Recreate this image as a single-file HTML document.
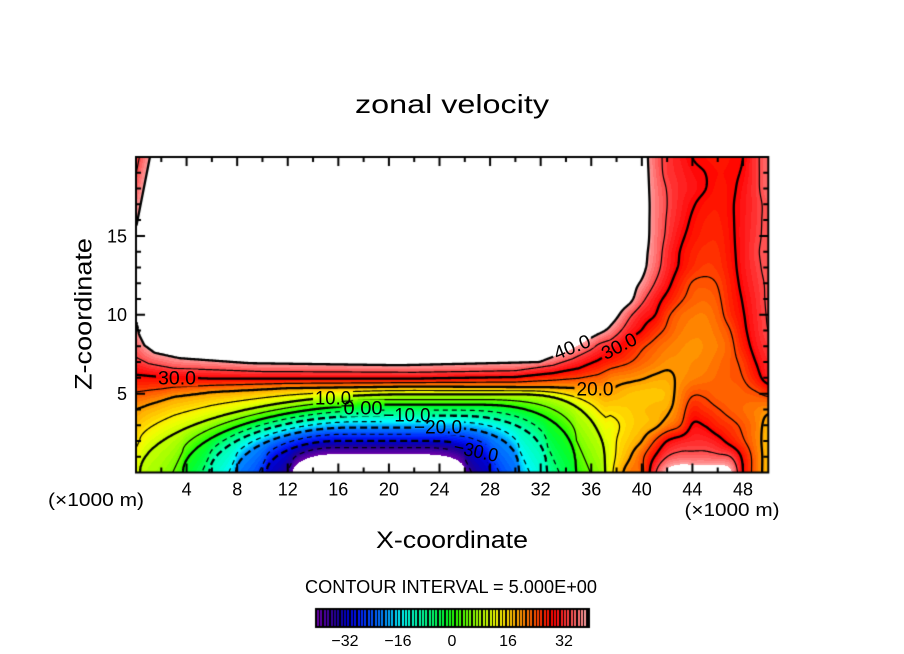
<!DOCTYPE html>
<html><head><meta charset="utf-8">
<style>
html,body{margin:0;padding:0;background:#fff;}
#wrap{position:relative;width:904px;height:654px;overflow:hidden;background:#fff;}
canvas{position:absolute;left:0;top:0;}
svg{position:absolute;left:0;top:0;}
text{font-family:"Liberation Sans",sans-serif;fill:#000;}
</style></head><body>
<div id="wrap">
<canvas id="c" width="904" height="654"></canvas>
<svg width="904" height="654" viewBox="0 0 904 654">
<text x="452" y="113" font-size="26" text-anchor="middle" textLength="194" lengthAdjust="spacingAndGlyphs">zonal velocity</text>
<g font-size="18" text-anchor="middle">
<text x="186.6" y="495.5">4</text>
<text x="237.2" y="495.5">8</text>
<text x="287.8" y="495.5">12</text>
<text x="338.3" y="495.5">16</text>
<text x="388.9" y="495.5">20</text>
<text x="439.5" y="495.5">24</text>
<text x="490.1" y="495.5">28</text>
<text x="540.7" y="495.5">32</text>
<text x="591.3" y="495.5">36</text>
<text x="641.8" y="495.5">40</text>
<text x="692.4" y="495.5">44</text>
<text x="743.0" y="495.5">48</text>
</g>
<g font-size="18" text-anchor="end">
<text x="127" y="242.3">15</text>
<text x="127" y="321.2">10</text>
<text x="127" y="400.1">5</text>
</g>
<text x="96" y="506" font-size="18" text-anchor="middle" textLength="96" lengthAdjust="spacingAndGlyphs">(×1000 m)</text>
<text x="732" y="516" font-size="18" text-anchor="middle" textLength="95" lengthAdjust="spacingAndGlyphs">(×1000 m)</text>
<text x="452" y="548" font-size="24" text-anchor="middle" textLength="152" lengthAdjust="spacingAndGlyphs">X-coordinate</text>
<text transform="translate(91.5,314) rotate(-90)" x="0" y="0" font-size="24" text-anchor="middle" textLength="152" lengthAdjust="spacingAndGlyphs">Z-coordinate</text>
<text x="451" y="593" font-size="18" text-anchor="middle" textLength="292" lengthAdjust="spacingAndGlyphs">CONTOUR INTERVAL = 5.000E+00</text>
<g font-size="16" text-anchor="middle">
<text x="345" y="646">−32</text>
<text x="398" y="646">−16</text>
<text x="452" y="646">0</text>
<text x="508" y="646">16</text>
<text x="564" y="646">32</text>
</g>
<g font-size="19" text-anchor="middle">
<text transform="translate(177,378)" y="6.5" textLength="38" lengthAdjust="spacingAndGlyphs">30.0</text>
<text transform="translate(333,398)" y="6.5" textLength="36" lengthAdjust="spacingAndGlyphs">10.0</text>
<text transform="translate(363,408)" y="6.5" textLength="39" lengthAdjust="spacingAndGlyphs">0.00</text>
<text transform="translate(407,415)" y="6.5" textLength="47" lengthAdjust="spacingAndGlyphs">−10.0</text>
<text transform="translate(438,427)" y="6.5" textLength="48" lengthAdjust="spacingAndGlyphs">−20.0</text>
<text transform="translate(476,451) rotate(12)" y="6.5" textLength="45" lengthAdjust="spacingAndGlyphs">−30.0</text>
<text transform="translate(595,389)" y="6.5" textLength="37" lengthAdjust="spacingAndGlyphs">20.0</text>
<text transform="translate(572,347) rotate(-22)" y="6.5" textLength="38" lengthAdjust="spacingAndGlyphs">40.0</text>
<text transform="translate(619,346) rotate(-27)" y="6.5" textLength="37" lengthAdjust="spacingAndGlyphs">30.0</text>
</g>
</svg>
</div>
<script>
(function(){
const cv=document.getElementById('c');const ctx=cv.getContext('2d');
const PX0=136,PX1=768.3,PY0=157,PY1=472.5;
const KX=(PX1-PX0)/50,KZ=(PY1-PY0)/20;
const W=633,H=316;

function lerpPoly(p,x){
  if(x<=p[0][0])return p[0][1];
  for(let i=1;i<p.length;i++){if(x<=p[i][0]){const a=p[i-1],b=p[i];return a[1]+(b[1]-a[1])*(x-a[0])/(b[0]-a[0]);}}
  return p[p.length-1][1];
}
function lowH(p,X){
  const s=3;
  if(X<=p[0])return -(p[0]-X)*s;
  if(X<p[1]){const t=(p[1]-X)/(p[1]-p[0]);return p[2]*Math.sqrt(Math.max(0,1-t*t));}
  if(X<=p[3])return p[2];
  if(X<p[4]){const t=(X-p[3])/(p[4]-p[3]);return p[2]*Math.pow(Math.max(0,1-Math.pow(t,2.5)),0.4);}
  return -(X-p[4])*s;
}
const LOW=[
 [-55,[15,17.5,0.35,21,23.5]],
 [-40,[12.4,15.5,1.15,22.5,26.0]],
 [-30,[10.3,16,2.0,23,28]],
 [-20,[7.9,17,2.85,24,30.3]],
 [-10,[5.8,18.5,3.6,25,32.5]],
 [0,[3.7,20,4.3,27,34.8]],
 [10,[0.3,21,4.95,30.5,37.1]]
];
const H20=[[0,4.0],[1,4.3],[3,4.8],[6,5.1],[12,5.35],[22,5.45],[33,5.4],[36.5,5.3],[38,5.1],[50,5.1]];
const H30=[[0,6.2],[2,6.05],[6,5.95],[22,5.95],[30,6.05],[33,6.3],[35,6.6],[36.5,7.1],[38.3,7.9],[40,8.9],[50,9]];
const H35=[[0,7.3],[1,6.9],[3,6.6],[10,6.4],[22,6.35],[30,6.45],[33,6.8],[34.5,7.2],[35.9,7.75],[37,8.4],[39,9.8],[50,10]];
const H40=[[0,9.7],[0.28,8.7],[0.67,8.07],[1.46,7.6],[3.44,7.25],[9,6.93],[20.8,6.8],[31.9,7.0],[34.3,7.75],[35.9,8.5],[37.5,9.2],[39,10.5],[39.8,12],[40.2,13.4],[40.6,14.7],[40.7,25],[50,25]];
function colH(X){
  const lv=[],hv=[];
  for(const [u,p] of LOW){lv.push(u);hv.push(lowH(p,X));}
  lv.push(20);hv.push(lerpPoly(H20,X));
  lv.push(30);hv.push(lerpPoly(H30,X));
  lv.push(35);hv.push(lerpPoly(H35,X));
  const h40=lerpPoly(H40,X);
  lv.push(40);hv.push(h40);
  lv.push(46);hv.push(h40+0.6);
  for(let i=1;i<hv.length;i++)if(hv[i]<hv[i-1]+0.02)hv[i]=hv[i-1]+0.02;
  return [lv,hv];
}
function ULz(c,Z){
  const lv=c[0],hv=c[1];
  if(Z<=hv[0])return lv[0]-(hv[0]-Z)*10;
  for(let i=1;i<hv.length;i++){if(Z<=hv[i])return lv[i-1]+(lv[i]-lv[i-1])*(Z-hv[i-1])/(hv[i]-hv[i-1]);}
  return 46+(Z-hv[hv.length-1])*3;
}
const GR=[
[4,9.5,17,22,24,34,41,43,43,43,43,41,30,23,18],
[5.5,9.5,15.5,19.5,24,30,35,36.5,36.5,36.5,36,35,29,23,18],
[7.5,10,15,17.5,20,25,30,32,33,33,31.5,28.5,25.5,22,18],
[9.5,12,14.5,16.5,17.8,19,22,24.7,30.3,29.8,27.5,26,24.3,22,18.5],
[14,15.8,16.5,17,17.8,18.5,19.3,22.5,27.5,26.5,25.2,24,23,22,21],
[19,19.8,19,18,17.6,17.6,18.3,21.5,24.5,24.5,23.5,23.3,23.8,24.5,26],
[23.6,22.5,21.5,21,20.3,19.5,19.3,20.6,21.7,22.4,23.2,24,25,28,32],
[30,28.3,26.7,25.2,23.5,22,20.8,20.8,21,21.5,22.7,24,26,30,33],
[35.5,33.8,31.3,28.3,25.7,23.8,22.2,21.2,20.8,21.1,22,24,27.8,31.5,34],
[44,40.5,36.5,32.5,29.8,26.7,24.3,22.3,21.4,21.4,22.7,25,29,32.3,35],
[48,45,41,36,32.3,30.2,25.8,23.3,22.2,22,23.6,26.8,29.7,32.7,35.3],
[49,47,44.5,41.5,36.2,32.2,28.8,25.7,23.8,23.2,24.4,27.5,30.3,33,35.5],
[50,49,46,42.5,39.3,35,31.3,27.5,24.8,24.4,25.2,28,31,33.5,35.5],
[50,50,48,46,41.5,37,32.8,29.5,27,25.8,26.3,28.6,31.5,34,36],
[50,50,49,47,42,37.8,33.3,30,27.8,26.6,26.8,29,31.6,34.4,36],
[50,50,50,48,43,38,34.3,31,28.8,27.5,27.3,29.2,31.7,34,36],
[50,50,50,48,43,38.2,34.7,32,29.5,28,27.8,29.4,31.6,33.8,36],
[50,50,50,48,43,38.3,35,32.5,30.4,28.8,28.2,29.5,31.5,33.7,36],
[50,50,50,48,43,38,34.8,32.8,31.5,30.1,28.7,29.3,31.2,34,37],
[50,50,50,48,43,37.5,34,32.5,31,30,29,29.3,30.5,34,37],
[50,50,50,48,43,37,34,32,30,29,28.5,29,30,34,37]
];
function cr(p0,p1,p2,p3,t){return p1+0.5*t*(p2-p0+t*(2*p0-5*p1+4*p2-p3+t*(3*(p1-p2)+p3-p0)));}
function G(a,b){return GR[Math.max(0,Math.min(20,b))][Math.max(0,Math.min(14,a))];}
function UR(X,Z){
  const gx=X-36,gz=Z;
  let i=Math.floor(gx),j=Math.floor(gz);
  i=Math.max(0,Math.min(13,i));j=Math.max(0,Math.min(19,j));
  const tx=gx-i,tz=gz-j;
  const r=[];
  for(let k=-1;k<=2;k++)r.push(cr(G(i-1,j+k),G(i,j+k),G(i+1,j+k),G(i+2,j+k),tx));
  return cr(r[0],r[1],r[2],r[3],tz);
}
const F=new Float32Array(W*H);
for(let i=0;i<W;i++){
  const X=(136+i+0.5-PX0)/KX;
  const c=colH(X);
  for(let j=0;j<H;j++){
    const Z=(PY1-(157+j+0.5))/KZ;
    let u=ULz(c,Z);
    if(X<8&&Z>15.5){const e=(Z-15.5)*0.245;const v=40+6*(X-e);if(v<u)u=v;}
    if(X>36.5){const r=UR(X,Z);if(X>=37.5)u=r;else{const w=X-36.5;u=u*(1-w)+r*w;}}
    F[j*W+i]=u;
  }
}
const CS=[
[-40,[110,0,170]],[-37,[70,0,160]],[-34,[30,0,150]],[-31,[0,0,200]],[-28,[0,20,245]],
[-25,[0,60,255]],[-21,[0,120,255]],[-18,[0,180,255]],[-15,[0,250,255]],[-11,[0,255,190]],
[-6,[0,255,120]],[-2,[0,255,50]],[1,[40,255,0]],[5,[110,255,0]],[9,[180,255,0]],
[13,[240,255,0]],[15,[255,235,0]],[18,[255,190,0]],[21,[255,140,0]],[24,[255,90,0]],
[27,[255,40,0]],[30,[255,0,0]],[33,[255,40,40]],[36,[255,90,90]],[39,[255,145,145]],[40,[255,165,165]]];
function cmap(v){
  for(let i=1;i<CS.length;i++){if(v<=CS[i][0]){const a=CS[i-1],b=CS[i];const t=(v-a[0])/(b[0]-a[0]);return [0,1,2].map(k=>Math.round(a[1][k]+(b[1][k]-a[1][k])*t));}}
  return CS[CS.length-1][1];
}
const BAND=[];for(let k=0;k<80;k++)BAND.push(cmap(-39.5+k));
const img=ctx.createImageData(W,H);
for(let j=0;j<H;j++)for(let i=0;i<W;i++){
  const u=F[j*W+i];const o=(j*W+i)*4;
  let col=[255,255,255];
  if(u>=-40&&u<40){col=BAND[Math.floor(u+40)];}
  img.data[o]=col[0];img.data[o+1]=col[1];img.data[o+2]=col[2];img.data[o+3]=255;
}
ctx.putImageData(img,136,157);

const LB=[[177,378,0,42],[333,398,0,40],[363,408,0,43],[407,415,0,51],[438,427,0,52],[476,451,12,49],[595,389,0,41],[572,347,-22,42],[619,346,-27,41]];
ctx.save();
ctx.beginPath();ctx.rect(136,157,633,316);
for(const [cx,cy,a,w] of LB){
  const r=a*Math.PI/180,c=Math.cos(r),s=Math.sin(r),hw=w/2,hh=8.5;
  const pts=[[-hw,-hh],[-hw,hh],[hw,hh],[hw,-hh]].map(([x,y])=>[cx+x*c-y*s,cy+x*s+y*c]);
  ctx.moveTo(pts[0][0],pts[0][1]);for(let k=1;k<4;k++)ctx.lineTo(pts[k][0],pts[k][1]);ctx.closePath();
}
ctx.clip('evenodd');

const T={1:[[3,0]],2:[[0,1]],3:[[3,1]],4:[[1,2]],5:[[3,0],[1,2]],6:[[0,2]],7:[[2,3]],8:[[2,3]],9:[[0,2]],10:[[0,1],[2,3]],11:[[1,2]],12:[[1,3]],13:[[0,1]],14:[[3,0]]};
function contour(level){
  const segs=[];
  const zcut=H-3*KZ;
  for(let j=0;j<H-1;j++){
    if(level===40&&j>zcut)continue;
    for(let i=0;i<W-1;i++){
      const a=F[j*W+i],b=F[j*W+i+1],c=F[(j+1)*W+i+1],d=F[(j+1)*W+i];
      const idx=(a>level?1:0)|(b>level?2:0)|(c>level?4:0)|(d>level?8:0);
      if(idx===0||idx===15)continue;
      const pt=k=>{switch(k){
        case 0:return [i+(level-a)/(b-a),j,j*W+i];
        case 1:return [i+1,j+(level-b)/(c-b),W*H+j*W+i+1];
        case 2:return [i+(level-d)/(c-d),j+1,(j+1)*W+i];
        default:return [i,j+(level-a)/(d-a),W*H+j*W+i];}};
      for(const [p,q] of T[idx]){segs.push(pt(p),pt(q));}
    }
  }
  const n=segs.length/2;const used=new Uint8Array(n);const map=new Map();
  for(let k=0;k<n;k++){for(const e of [segs[2*k][2],segs[2*k+1][2]]){let l=map.get(e);if(!l){l=[];map.set(e,l);}l.push(k);}}
  const lines=[];
  for(let k=0;k<n;k++){
    if(used[k])continue;used[k]=1;
    const line=[segs[2*k],segs[2*k+1]];
    for(let dir=0;dir<2;dir++){
      while(true){
        const last=line[line.length-1];const l=map.get(last[2]);let nk=-1;
        for(const m of l)if(!used[m]){nk=m;break;}
        if(nk<0)break;used[nk]=1;
        const A=segs[2*nk],B=segs[2*nk+1];
        line.push(A[2]===last[2]?B:A);
      }
      line.reverse();
    }
    lines.push(line);
  }
  return lines;
}
ctx.strokeStyle='#000';ctx.lineCap='butt';ctx.lineJoin='round';
for(let lev=-35;lev<=40;lev+=5){
  const thick=(lev%10===0);
  ctx.lineWidth=thick?2.3:1.2;
  if(lev<0)ctx.setLineDash(thick?[7,4]:[5,4]);else ctx.setLineDash([]);
  const lines=contour(lev);
  ctx.beginPath();
  for(const ln of lines){
    ctx.moveTo(136+ln[0][0]+0.5,157+ln[0][1]+0.5);
    for(let k=1;k<ln.length;k++)ctx.lineTo(136+ln[k][0]+0.5,157+ln[k][1]+0.5);
  }
  ctx.stroke();
}
ctx.restore();
ctx.setLineDash([]);

ctx.strokeStyle='#000';ctx.lineWidth=2;
ctx.strokeRect(PX0,PY0,PX1-PX0,PY1-PY0);
ctx.beginPath();
for(let k=2;k<50;k+=2){
  const x=PX0+k*KX;const L=(k%4===0)?9:5;
  ctx.moveTo(x,PY1);ctx.lineTo(x,PY1-L);
  ctx.moveTo(x,PY0);ctx.lineTo(x,PY0+L);
}
for(let k=1;k<20;k++){
  const y=PY1-k*KZ;const L=(k%5===0)?9:5;
  ctx.moveTo(PX0,y);ctx.lineTo(PX0+L,y);
  ctx.moveTo(PX1,y);ctx.lineTo(PX1-L,y);
}
ctx.stroke();

ctx.fillStyle='#000';ctx.fillRect(315,608,275,20);
for(let k=0;k<80;k++){
  const c=BAND[k];ctx.fillStyle='rgb('+c[0]+','+c[1]+','+c[2]+')';
  ctx.fillRect(Math.round(317+k*3.385),610,2,16);
}
})();
</script>
</body></html>
